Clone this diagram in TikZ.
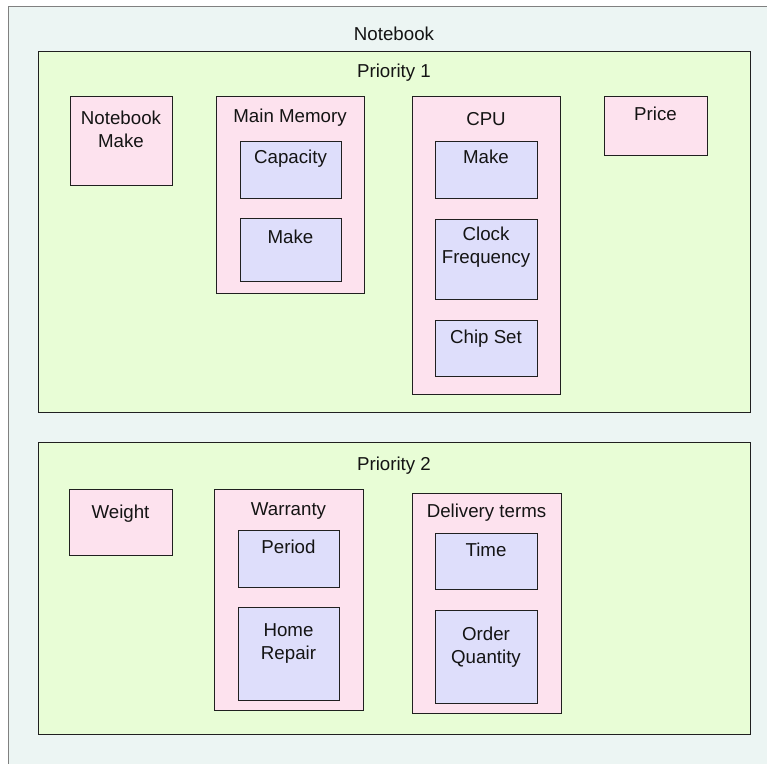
\documentclass[tikz,border=0pt]{standalone}
\usepackage{fontspec}
\setmainfont{Liberation Sans}
\usetikzlibrary{shadows}
\definecolor{bgcol}{HTML}{ECF5F3}
\definecolor{grpcol}{HTML}{E8FDD6}
\definecolor{itemcol}{HTML}{FDE2EE}
\definecolor{subcol}{HTML}{DEDEFB}
\definecolor{edgecol}{HTML}{202020}
\tikzset{
  box/.style={draw=edgecol, line width=1pt, inner sep=0pt, outer sep=0pt,
    drop shadow={shadow xshift=1.3pt, shadow yshift=-1.3pt, fill=black!50, opacity=1}},
  grp/.style={box, fill=grpcol},
  item/.style={box, fill=itemcol},
  sub/.style={box, fill=subcol},
  lbl/.style={anchor=base, inner sep=0pt, align=center, text=black!92,
    font=\fontsize{18.7}{22.5}\selectfont},
}
% \mkbox{name}{style}{left}{top}{right}{bottom}
\newcommand\mkbox[6]{%
  \node[#2, minimum width={(#5-#3)*1pt}, minimum height={(#6-#4)*1pt}]
    (#1) at ({(#3+#5)/2},{(#4+#6)/2}) {};}
\begin{document}
\begin{tikzpicture}[x=1pt, y=-1pt]
  \useasboundingbox (0,0) rectangle (767,763);
  \begin{scope}
    \clip (0,0) rectangle (767,763);
    \fill[white] (0,0) rectangle (767,763);
    \draw[draw=black!50, fill=bgcol, line width=1pt] (8,6) rectangle (800,800);
  \end{scope}
  \node[lbl] (nbl) at (394,40) {Notebook};

  % Priority 1 group (multi-line labels are placed by their last baseline)
  \mkbox{p1}{grp}{38}{51}{750}{412}
  \node[lbl] (p1l) at (394,77) {Priority 1};
  \mkbox{nbmake}{item}{70}{96}{172}{185}
  \node[lbl] (nbmakel) at (121,147) {Notebook\\Make};
  \mkbox{mem}{item}{216}{96}{364}{293}
  \node[lbl] (meml) at (290,122) {Main Memory};
  \mkbox{cap}{sub}{240}{141}{341}{198}
  \node[lbl] (capl) at (290.5,163) {Capacity};
  \mkbox{memmake}{sub}{240}{218}{341}{281}
  \node[lbl] (memmakel) at (290.5,243) {Make};
  \mkbox{cpu}{item}{412}{96}{560}{394}
  \node[lbl] (cpul) at (486,125) {CPU};
  \mkbox{cpumake}{sub}{435}{141}{537}{198}
  \node[lbl] (cpumakel) at (486,163) {Make};
  \mkbox{clock}{sub}{435}{219}{537}{299}
  \node[lbl] (clockl) at (486,263) {Clock\\Frequency};
  \mkbox{chip}{sub}{435}{320}{537}{376}
  \node[lbl] (chipl) at (486,343) {Chip Set};
  \mkbox{price}{item}{604}{96}{707}{155}
  \node[lbl] (pricel) at (655.5,120) {Price};

  % Priority 2 group
  \mkbox{p2}{grp}{38}{442}{750}{734}
  \node[lbl] (p2l) at (394,470) {Priority 2};
  \mkbox{weight}{item}{69}{489}{172}{555}
  \node[lbl] (weightl) at (120.5,518) {Weight};
  \mkbox{warr}{item}{214}{489}{363}{710}
  \node[lbl] (warrl) at (288.5,515) {Warranty};
  \mkbox{period}{sub}{238}{530}{339}{587}
  \node[lbl] (periodl) at (288.5,553) {Period};
  \mkbox{home}{sub}{238}{607}{339}{700}
  \node[lbl] (homel) at (288.5,659) {Home\\Repair};
  \mkbox{deliv}{item}{412}{493}{561}{713}
  \node[lbl] (delivl) at (486.5,517) {Delivery terms};
  \mkbox{time}{sub}{435}{533}{537}{589}
  \node[lbl] (timel) at (486,556) {Time};
  \mkbox{order}{sub}{435}{610}{537}{703}
  \node[lbl] (orderl) at (486,663) {Order\\Quantity};
\end{tikzpicture}
\end{document}
